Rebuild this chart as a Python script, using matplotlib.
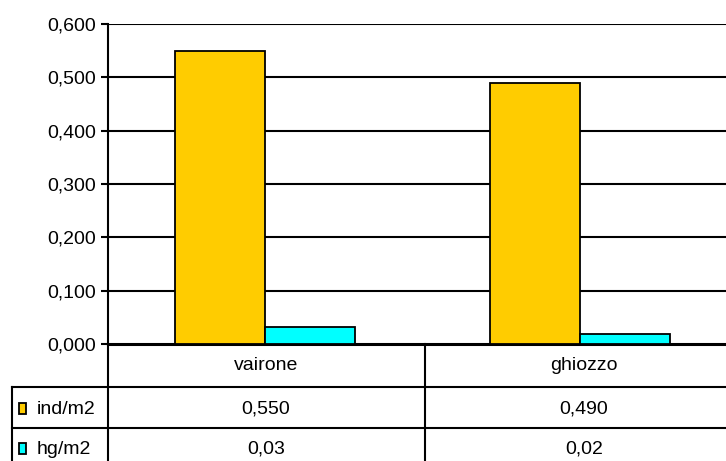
from matplotlib import pyplot as plt
from matplotlib.patches import Rectangle
import numpy as np

plt.rcParams['font.family'] = ['Liberation Sans', 'DejaVu Sans']

categories = ["vairone", "ghiozzo"]
series_names = ["ind/m2", "hg/m2"]
ind_m2 = [0.550, 0.490]
hg_m2 = [0.032, 0.019]
ind_labels = ["0,550", "0,490"]
hg_labels = ["0,03", "0,02"]
yticks = [0.0, 0.1, 0.2, 0.3, 0.4, 0.5, 0.6]
ytick_labels = ["0,000", "0,100", "0,200", "0,300", "0,400", "0,500", "0,600"]
colors = ["#FFCC00", "#00FFFF"]

W, H = 726, 461
fig = plt.figure(figsize=(W / 100, H / 100), dpi=100)
fs = 14

def fx(x):
    return x / W

def fy(y):
    return 1 - y / H

# plot area in pixels
left, top, bottom, right = 107.5, 24, 344, 737.5
ax = fig.add_axes([fx(left), fy(bottom), fx(right - left), (bottom - top) / H])
ax.set_xlim(0, len(categories))
ax.set_ylim(0, 0.6)

x = np.arange(len(categories)) + 0.5
bw = 90 / 315
ax.bar(x - bw / 2, ind_m2, bw, color=colors[0], edgecolor="black", linewidth=1.3, zorder=3)
ax.bar(x + bw / 2, hg_m2, bw, color=colors[1], edgecolor="black", linewidth=1.3, zorder=3)

for t in yticks[1:]:
    ax.axhline(t, color="black", linewidth=1.5, zorder=1)
ax.set_yticks(yticks)
ax.set_yticklabels(ytick_labels, fontsize=fs)
ax.set_xticks([])
ax.tick_params(axis="y", length=5, width=1.5, pad=3)
for s in ["top", "right"]:
    ax.spines[s].set_visible(False)
ax.spines["left"].set_linewidth(1.5)
ax.spines["bottom"].set_linewidth(2.2)

# data table below the plot
row_y = [344, 387, 428, 470]
lw = 1.5

def hline(y, x0, x1, w=lw):
    fig.add_artist(plt.Line2D([fx(x0), fx(x1)], [fy(y), fy(y)], color="black", linewidth=w))

def vline(x0, y0, y1, w=lw):
    fig.add_artist(plt.Line2D([fx(x0), fx(x0)], [fy(y0), fy(y1)], color="black", linewidth=w))

hline(row_y[1], 12, W + 20)
hline(row_y[2], 12, W + 20)
vline(left, row_y[0], row_y[3])
vline(12, row_y[1], row_y[3])
vline(425, row_y[0], row_y[3])

cat_px = [266, 584]
for cx, name in zip(cat_px, categories):
    fig.text(fx(cx), fy((row_y[0] + row_y[1]) / 2), name, ha="center", va="center", fontsize=fs)

rows = [(series_names[0], ind_labels, colors[0]), (series_names[1], hg_labels, colors[1])]
for i, (name, labels, c) in enumerate(rows):
    yc = 409 if i == 0 else 449
    fig.add_artist(Rectangle((fx(19), fy(yc + 5)), 7 / W, 11 / H, transform=fig.transFigure,
                             facecolor=c, edgecolor="black", linewidth=1.3))
    fig.text(fx(37), fy(yc), name, ha="left", va="center", fontsize=fs)
    for cx, lab in zip(cat_px, labels):
        fig.text(fx(cx), fy(yc), lab, ha="center", va="center", fontsize=fs)

fig.savefig("out.png", dpi=100)
